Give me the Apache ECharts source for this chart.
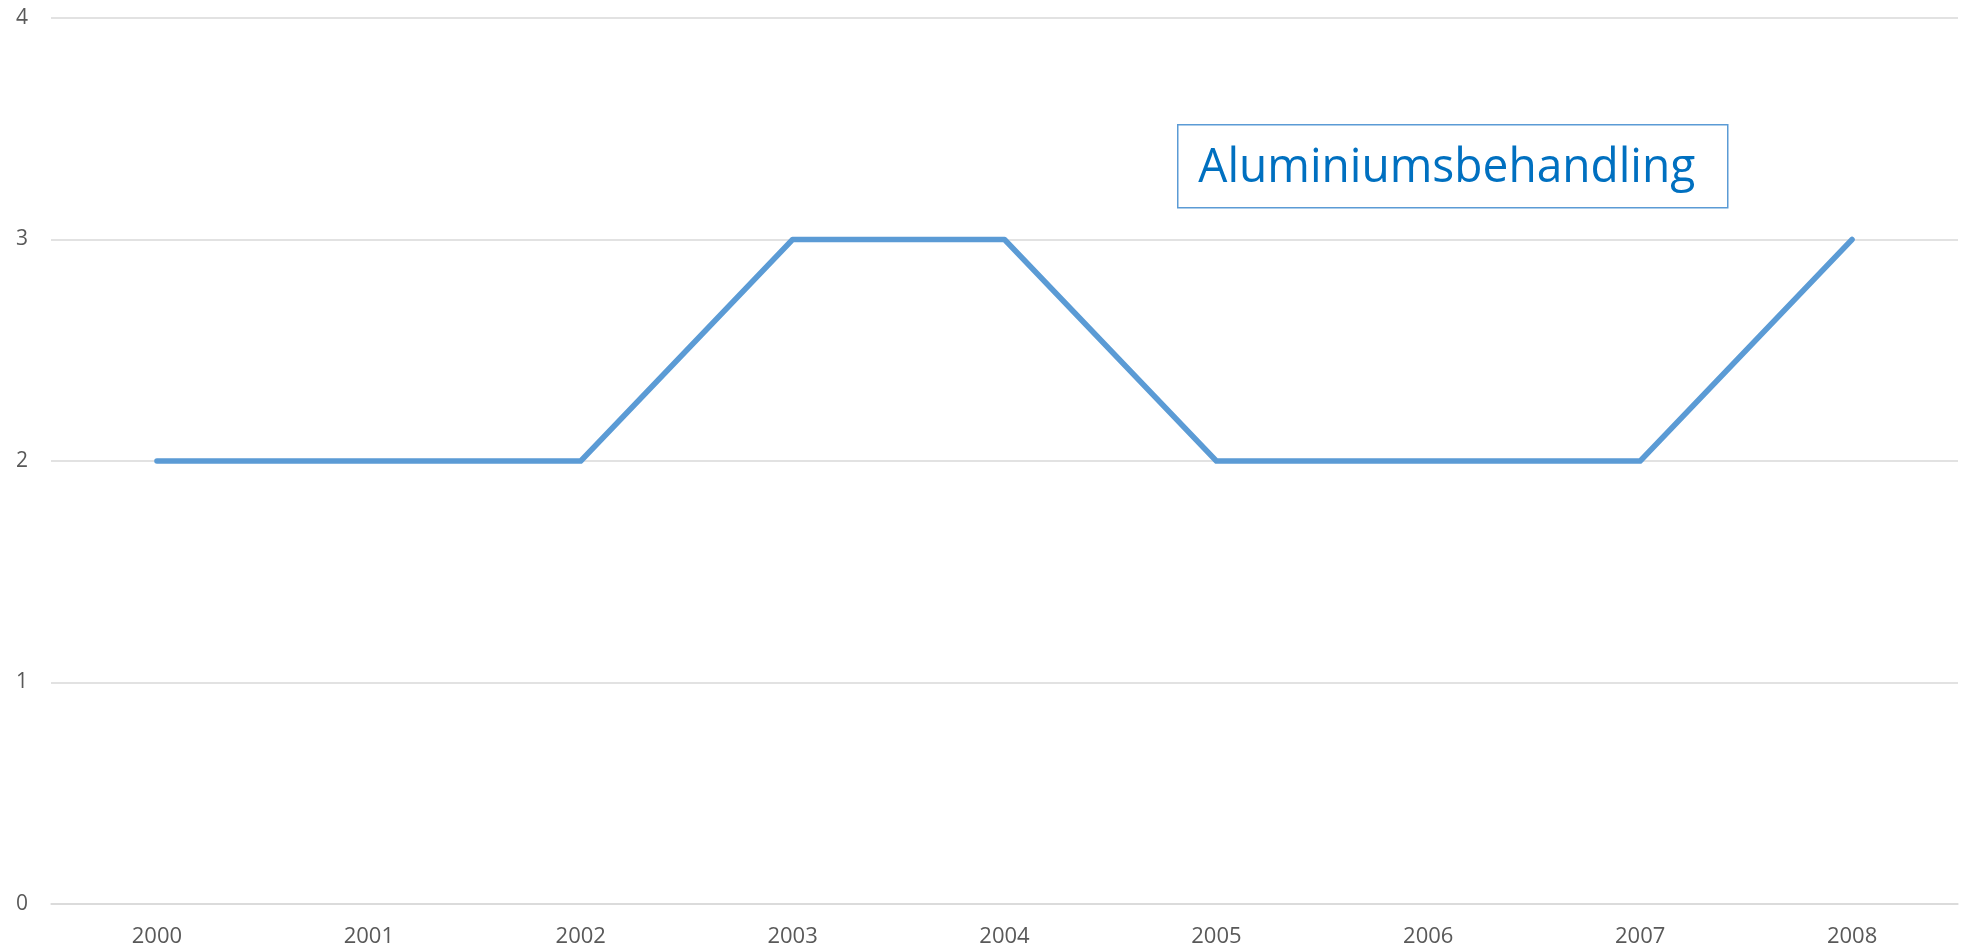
<!DOCTYPE html>
<html>
<head>
<meta charset="utf-8">
<script src="https://cdn.jsdelivr.net/npm/echarts@6/dist/echarts.min.js"></script>
<style>
  html, body { margin: 0; padding: 0; background: #fff; }
  #chart { width: 1967px; height: 952px; }
</style>
</head>
<body>
<div id="chart"></div>
<script>
// år och värden
const years = ['2000', '2001', '2002', '2003', '2004', '2005', '2006', '2007', '2008'];
const values = [2, 2, 2, 3, 3, 2, 2, 2, 3];
const boxLabel = 'Aluminiumsbehandling';

const chart = echarts.init(document.getElementById('chart'));

const option = {
	animation: false,
	grid: { left: 51, right: 9, top: 18, bottom: 48, containLabel: false },
	xAxis: {
		type: 'category',
		data: years,
		boundaryGap: true,
		axisLine: { lineStyle: { color: '#d9d9d9', width: 1.5 } },
		axisTick: { show: false },
		axisLabel: { color: '#595959', fontSize: 22, fontFamily: 'Open Sans', margin: 22 }
	},
	yAxis: {
		type: 'value',
		min: 0,
		max: 4,
		interval: 1,
		axisLine: { show: false },
		axisTick: { show: false },
		axisLabel: { color: '#595959', fontSize: 21, fontFamily: 'Open Sans', margin: 23 },
		splitLine: { lineStyle: { color: '#d9d9d9', width: 1.5 } }
	},
	series: [{
		type: 'line',
		data: values,
		symbol: 'none',
		lineStyle: { color: '#5b9bd5', width: 5.5, cap: 'round', join: 'round' }
	}],
	// rutan med etiketten
	graphic: [{
		type: 'group',
		left: 1177,
		top: 124,
		children: [
			{
				type: 'rect',
				shape: { x: 0, y: 0, width: 550, height: 83 },
				style: { fill: '#fff', stroke: '#5b9bd5', lineWidth: 1.5 }
			},
			{
				type: 'text',
				x: 269,
				y: 44,
				style: {
					text: boxLabel,
					fill: '#0070c0',
					font: '48px "Open Sans"',
					textAlign: 'center',
					textVerticalAlign: 'middle'
				},
				scaleX: 0.96
			}
		]
	}]
};

chart.setOption(option);
</script>
</body>
</html>
